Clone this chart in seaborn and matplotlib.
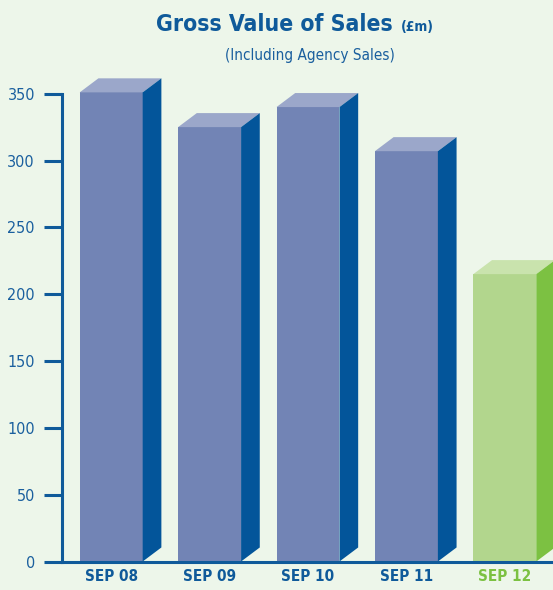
import matplotlib
matplotlib.use("Agg")
import matplotlib.pyplot as plt
from matplotlib.patches import Polygon
import seaborn as sns

periods = ["SEP 08", "SEP 09", "SEP 10", "SEP 11", "SEP 12"]
sales = [351, 325, 340, 307, 215]
y_ticks = [0, 50, 100, 150, 200, 250, 300, 350]

bg = "#edf6ea"
navy = "#0f5a9a"
front_cols = ["#7284b5", "#7284b5", "#7284b5", "#7284b5", "#b2d68d"]
top_cols = ["#9ba7ca", "#9ba7ca", "#9ba7ca", "#9ba7ca", "#c9e3ad"]
side_cols = ["#03559a", "#03559a", "#03559a", "#03559a", "#7cc142"]
label_cols = [navy, navy, navy, navy, "#7cc142"]

sns.set_style("white")
plt.rcParams["font.family"] = ["DejaVu Sans"]
plt.rcParams["font.stretch"] = "condensed"

fig = plt.figure(figsize=(5.53, 5.90), dpi=100, facecolor=bg)
ax = fig.add_axes([62 / 553, 28.5 / 590, 491 / 553, 0.8495])
ax.set_facecolor(bg)

sns.barplot(x=periods, y=sales, hue=periods, palette=front_cols, legend=False,
            width=0.64, saturation=1, linewidth=0, ax=ax)

# fake 3D: top and side faces derived from each bar
dx, dy = 0.19, 10.5
bars = sorted(ax.patches, key=lambda p: p.get_x())
for i, p in enumerate(bars):
    xl = p.get_x()
    xr = xl + p.get_width()
    h = p.get_height()
    top = Polygon([(xl, h), (xr, h), (xr + dx, h + dy), (xl + dx, h + dy)],
                  closed=True, fc=top_cols[i], ec="none", clip_on=False, zorder=1)
    side = Polygon([(xr, 0), (xr, h), (xr + dx, h + dy), (xr + dx, dy)],
                   closed=True, fc=side_cols[i], ec="none", clip_on=False, zorder=1)
    ax.add_patch(top)
    ax.add_patch(side)

ax.set_xlim(-0.5, 4.49)
ax.set_ylim(0, 375)
ax.set_yticks(y_ticks)
ax.set_xlabel("")
ax.set_ylabel("")

for s in ["top", "right"]:
    ax.spines[s].set_visible(False)
ax.spines["left"].set_bounds(0, 350)
for s in ["left", "bottom"]:
    ax.spines[s].set_color(navy)
    ax.spines[s].set_linewidth(2.2)

ax.tick_params(axis="y", left=True, length=13, width=2.2, color=navy, pad=6.5,
               labelsize=11.5, labelcolor="#1a5f9e")
ax.tick_params(axis="x", bottom=False, length=0, pad=5.5, labelsize=11)
for lab, c in zip(ax.get_xticklabels(), label_cols):
    lab.set_color(c)
    lab.set_fontweight("bold")

fig.text(393 / 553, 1 - 31 / 590, "Gross Value of Sales", ha="right", va="baseline",
         fontsize=16.5, fontweight="bold", color=navy)
fig.text(401 / 553, 1 - 31 / 590, "(£m)", ha="left", va="baseline",
         fontsize=10, fontweight="bold", color=navy)
fig.text(310 / 553, 1 - 60 / 590, "(Including Agency Sales)", ha="center", va="baseline",
         fontsize=11, color="#1a5f9e")

fig.savefig("out.png", dpi=100, facecolor=bg)
